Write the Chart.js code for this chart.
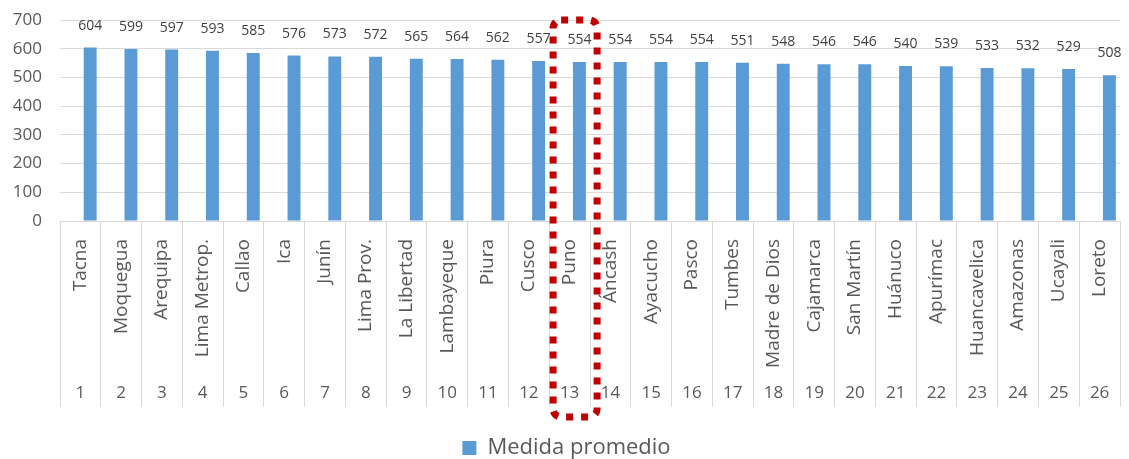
<!DOCTYPE html>
<html>
<head>
<meta charset="utf-8">
<script src="https://cdn.jsdelivr.net/npm/chart.js@4"></script>
<style>
  html, body { margin: 0; padding: 0; background: #fff; }
</style>
</head>
<body>
<canvas id="chart" width="1129" height="459"></canvas>
<script>
// Data
const regions = ["Tacna", "Moquegua", "Arequipa", "Lima Metrop.", "Callao", "Ica", "Junín", "Lima Prov.",
  "La Libertad", "Lambayeque", "Piura", "Cusco", "Puno", "Áncash", "Ayacucho", "Pasco", "Tumbes",
  "Madre de Dios", "Cajamarca", "San Martín", "Huánuco", "Apurímac", "Huancavelica", "Amazonas",
  "Ucayali", "Loreto"];
const ranks = ["1", "2", "3", "4", "5", "6", "7", "8", "9", "10", "11", "12", "13", "14", "15", "16",
  "17", "18", "19", "20", "21", "22", "23", "24", "25", "26"];
const scores = [604, 599, 597, 593, 585, 576, 573, 572, 565, 564, 562, 557, 554, 554, 554, 554, 551,
  548, 546, 546, 540, 539, 533, 532, 529, 508];
const yTicks = [0, 100, 200, 300, 400, 500, 600, 700];
const highlighted = "Puno";

const FONT = '"Open Sans", "Noto Sans", sans-serif';

// value labels above the bars
const barLabels = {
  id: "barLabels",
  afterDatasetsDraw(chart) {
    const ctx = chart.ctx;
    const meta = chart.getDatasetMeta(1);
    ctx.save();
    ctx.font = "14px " + FONT;
    ctx.fillStyle = "#404040";
    ctx.textAlign = "center";
    ctx.textBaseline = "middle";
    meta.data.forEach((bar, i) => {
      ctx.fillText(String(scores[i]), bar.x, bar.y - 22);
    });
    ctx.restore();
  }
};

// dotted red frame around the highlighted region
const highlightBox = {
  id: "highlightBox",
  afterDraw(chart) {
    const { ctx, scales } = chart;
    const cx = scales.x.getPixelForValue(regions.indexOf(highlighted));
    const left = cx - 16.5;
    const right = cx + 27.5;
    const top = scales.y.getPixelForValue(yTicks[yTicks.length - 1]);
    const bottom = scales.x2.bottom + 10;
    ctx.save();
    ctx.strokeStyle = "#c00000";
    ctx.lineWidth = 7;
    ctx.setLineDash([7, 8]);
    ctx.beginPath();
    ctx.roundRect(left, top, right - left, bottom - top, 8);
    ctx.stroke();
    ctx.restore();
  }
};

new Chart(document.getElementById("chart"), {
  type: "bar",
  data: {
    labels: regions,
    datasets: [
      // empty first slot, shifts the real bars to the right like the original
      { label: "", data: [], backgroundColor: "transparent" },
      {
        label: "Medida promedio",
        data: scores,
        backgroundColor: "#5b9bd5",
        borderWidth: 0
      }
    ]
  },
  options: {
    responsive: false,
    animation: false,
    datasets: { bar: { categoryPercentage: 0.96, barPercentage: 0.66 } },
    layout: { autoPadding: false, padding: { top: 20, left: 13, right: 9, bottom: -10 } },
    plugins: {
      legend: {
        position: "bottom",
        labels: {
          filter: (item) => item.text !== "",
          boxWidth: 14,
          boxHeight: 14,
          padding: 30,
          color: "#595959",
          font: { family: FONT, size: 22 }
        }
      },
      tooltip: { enabled: false }
    },
    scales: {
      y: {
        min: 0,
        max: 700,
        afterBuildTicks: (scale) => { scale.ticks = yTicks.map((v) => ({ value: v })); },
        border: { display: false },
        // invisible tick marks keep the labels 18px off the plot
        grid: { color: "#d9d9d9", drawTicks: true, tickLength: 18, tickColor: "transparent" },
        ticks: { padding: 0, color: "#595959", font: { family: FONT, size: 17 } },
        afterFit: (scale) => { scale.width = 47; }
      },
      x: {
        weight: 0,
        offset: true,
        border: { color: "#d9d9d9" },
        grid: { offset: true, drawOnChartArea: false, color: "#d9d9d9", tickLength: 146 },
        ticks: {
          autoSkip: false,
          minRotation: 90,
          maxRotation: 90,
          padding: 18 - 146,
          color: "#595959",
          font: { family: FONT, size: 19 }
        },
        afterFit: (scale) => { scale.height = 146; }
      },
      x2: {
        type: "category",
        labels: ranks,
        position: "bottom",
        weight: 1,
        offset: true,
        border: { display: false },
        grid: { offset: true, drawOnChartArea: false, color: "#d9d9d9", tickLength: 40 },
        ticks: {
          autoSkip: false,
          maxRotation: 0,
          padding: 16 - 40,
          color: "#595959",
          font: { family: FONT, size: 17 }
        },
        afterFit: (scale) => { scale.height = 40; }
      }
    }
  },
  plugins: [barLabels, highlightBox]
});
</script>
</body>
</html>
